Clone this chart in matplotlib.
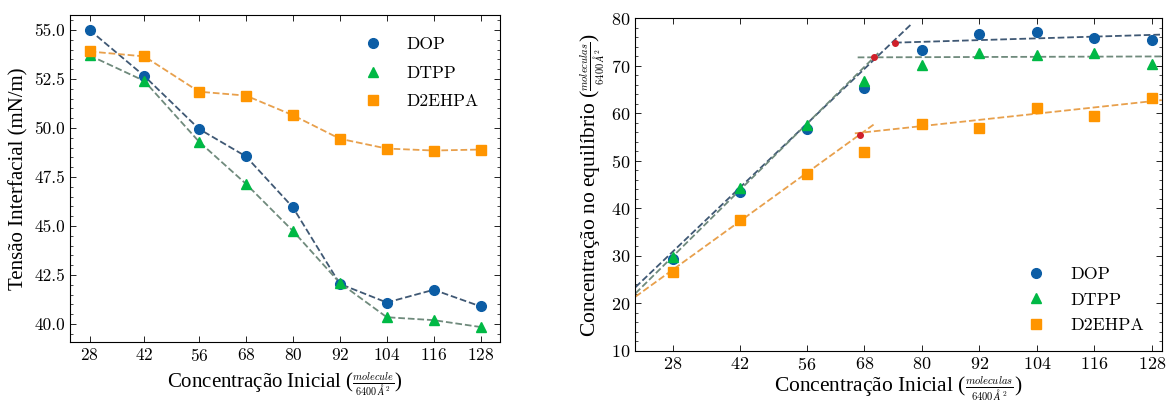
import matplotlib
matplotlib.use("Agg")
import matplotlib.pyplot as plt
from matplotlib.ticker import AutoMinorLocator, NullLocator, MultipleLocator, FormatStrFormatter

plt.rcParams['font.family'] = ['cmr10', 'DejaVu Serif']
plt.rcParams['mathtext.fontset'] = 'cm'
plt.rcParams['axes.formatter.use_mathtext'] = True
plt.rcParams['axes.unicode_minus'] = False

# fonte dos rótulos (cmr10 não tem ç / ã)
FONTE_ROTULO = 'Liberation Serif'

# =============================================================================
# DADOS
# =============================================================================

conc = [28, 42, 56, 68, 80, 92, 104, 116, 128]
nomes = ['DOP', 'DTPP', 'D2EHPA']

# Tensão interfacial (mN/m)
tensao_dop = [55.0, 52.65, 49.95, 48.55, 45.95, 42.05, 41.1, 41.75, 40.9]
tensao_dtpp = [53.7, 52.4, 49.3, 47.15, 44.75, 42.1, 40.35, 40.2, 39.85]
tensao_d2ehpa = [53.9, 53.65, 51.85, 51.65, 50.65, 49.45, 48.95, 48.85, 48.9]

# Concentração no equilíbrio
equil_dop = [29.4, 43.4, 56.7, 65.3, 73.3, 76.7, 77.1, 75.8, 75.5]
equil_dtpp = [29.8, 44.2, 57.6, 66.8, 70.2, 72.8, 72.4, 72.8, 70.5]
equil_d2ehpa = [26.6, 37.5, 47.2, 51.9, 57.8, 56.9, 61.1, 59.4, 63.2]

# Retas ajustadas (extremos)
reta_dop_sub_x = [20.2, 77.9]
reta_dop_sub_y = [23.4, 78.9]
reta_dop_pat_x = [74.4, 130.1]
reta_dop_pat_y = [74.9, 76.6]
reta_dtpp_sub_x = [20.2, 71.0]
reta_dtpp_sub_y = [22.1, 72.8]
reta_dtpp_pat_x = [66.6, 130.1]
reta_dtpp_pat_y = [71.8, 72.0]
reta_d2_sub_x = [20.2, 70.0]
reta_d2_sub_y = [21.4, 57.7]
reta_d2_pat_x = [66.0, 130.1]
reta_d2_pat_y = [55.8, 62.8]

# Pontos de interseção
inter_x = [74.4, 70.0, 67.0]
inter_y = [74.9, 71.8, 55.4]

cores = ['#0C5DA5', '#00B945', '#FF9500']
cores_linha = ['#3f5874', '#6f8a7c', '#e8a04c']
marcadores = ['o', '^', 's']

FRAC_MOL = r'$\genfrac{}{}{0.6}{2}{molecule}{6400\,\AA^2}$'
FRAC_MOLS = r'$\genfrac{}{}{0.6}{2}{moleculas}{6400\,\AA^2}$'


def estilo_eixo(ax, fs):
    """Ticks para dentro nos quatro lados"""
    ax.tick_params(which='both', direction='in', top=True, right=True,
                   labelsize=fs)
    ax.tick_params(which='major', length=4.5, width=0.6)
    ax.tick_params(which='minor', length=2.5, width=0.5)
    ax.set_xticks(conc)
    ax.xaxis.set_minor_locator(NullLocator())
    ax.yaxis.set_minor_locator(AutoMinorLocator(5))
    for s in ax.spines.values():
        s.set_linewidth(0.8)


fig = plt.figure(figsize=(11.66, 4.07), dpi=100)

# =============================================================================
# TENSÃO INTERFACIAL
# =============================================================================

ax1 = fig.add_axes([0.060, 0.160, 0.369, 0.803])
for ys, nome, c, cl, m in zip([tensao_dop, tensao_dtpp, tensao_d2ehpa],
                              nomes, cores, cores_linha, marcadores):
    ax1.plot(conc, ys, '--', color=cl, lw=1.3, zorder=2)
    ax1.plot(conc, ys, m, color=c, ms=7, label=nome, zorder=3)

estilo_eixo(ax1, 12.5)
ax1.yaxis.set_major_locator(MultipleLocator(2.5))
ax1.yaxis.set_major_formatter(FormatStrFormatter('%.1f'))
ax1.set_ylabel('Tensão Interfacial (mN/m)', fontsize=15, family=FONTE_ROTULO)
ax1.set_xlabel('Concentração Inicial (' + FRAC_MOL + ')',
               fontsize=15, family=FONTE_ROTULO, labelpad=5)
ax1.legend(loc='upper right', frameon=False, fontsize=12.6,
           handletextpad=0.9, labelspacing=0.75, borderaxespad=0.85)

# =============================================================================
# CONCENTRAÇÃO NO EQUILÍBRIO
# =============================================================================

ax2 = fig.add_axes([0.545, 0.138, 0.4514, 0.8167])
retas = [
    (reta_dop_sub_x, reta_dop_sub_y, cores_linha[0]),
    (reta_dop_pat_x, reta_dop_pat_y, cores_linha[0]),
    (reta_dtpp_sub_x, reta_dtpp_sub_y, cores_linha[1]),
    (reta_dtpp_pat_x, reta_dtpp_pat_y, cores_linha[1]),
    (reta_d2_sub_x, reta_d2_sub_y, cores_linha[2]),
    (reta_d2_pat_x, reta_d2_pat_y, cores_linha[2]),
]
for rx, ry, cl in retas:
    ax2.plot(rx, ry, '--', color=cl, lw=1.3, zorder=2)

for ys, nome, c, m in zip([equil_dop, equil_dtpp, equil_d2ehpa],
                          nomes, cores, marcadores):
    ax2.plot(conc, ys, m, color=c, ms=7, label=nome, zorder=3)

ax2.plot(inter_x, inter_y, 'o', color='#d0202a', ms=4, zorder=4)

estilo_eixo(ax2, 13)
ax2.set_xlim(20.2, 130.1)
ax2.set_ylim(10, 80)
ax2.set_ylabel('Concentração no equilíbrio (' + FRAC_MOLS + ')',
               fontsize=15.5, family=FONTE_ROTULO, labelpad=3)
ax2.set_xlabel('Concentração Inicial (' + FRAC_MOLS + ')',
               fontsize=15.5, family=FONTE_ROTULO, labelpad=1)
ax2.legend(loc='lower right', frameon=False, fontsize=12.9,
           handletextpad=0.9, labelspacing=0.55, borderaxespad=0.6)

fig.savefig('out.png', dpi=100)
